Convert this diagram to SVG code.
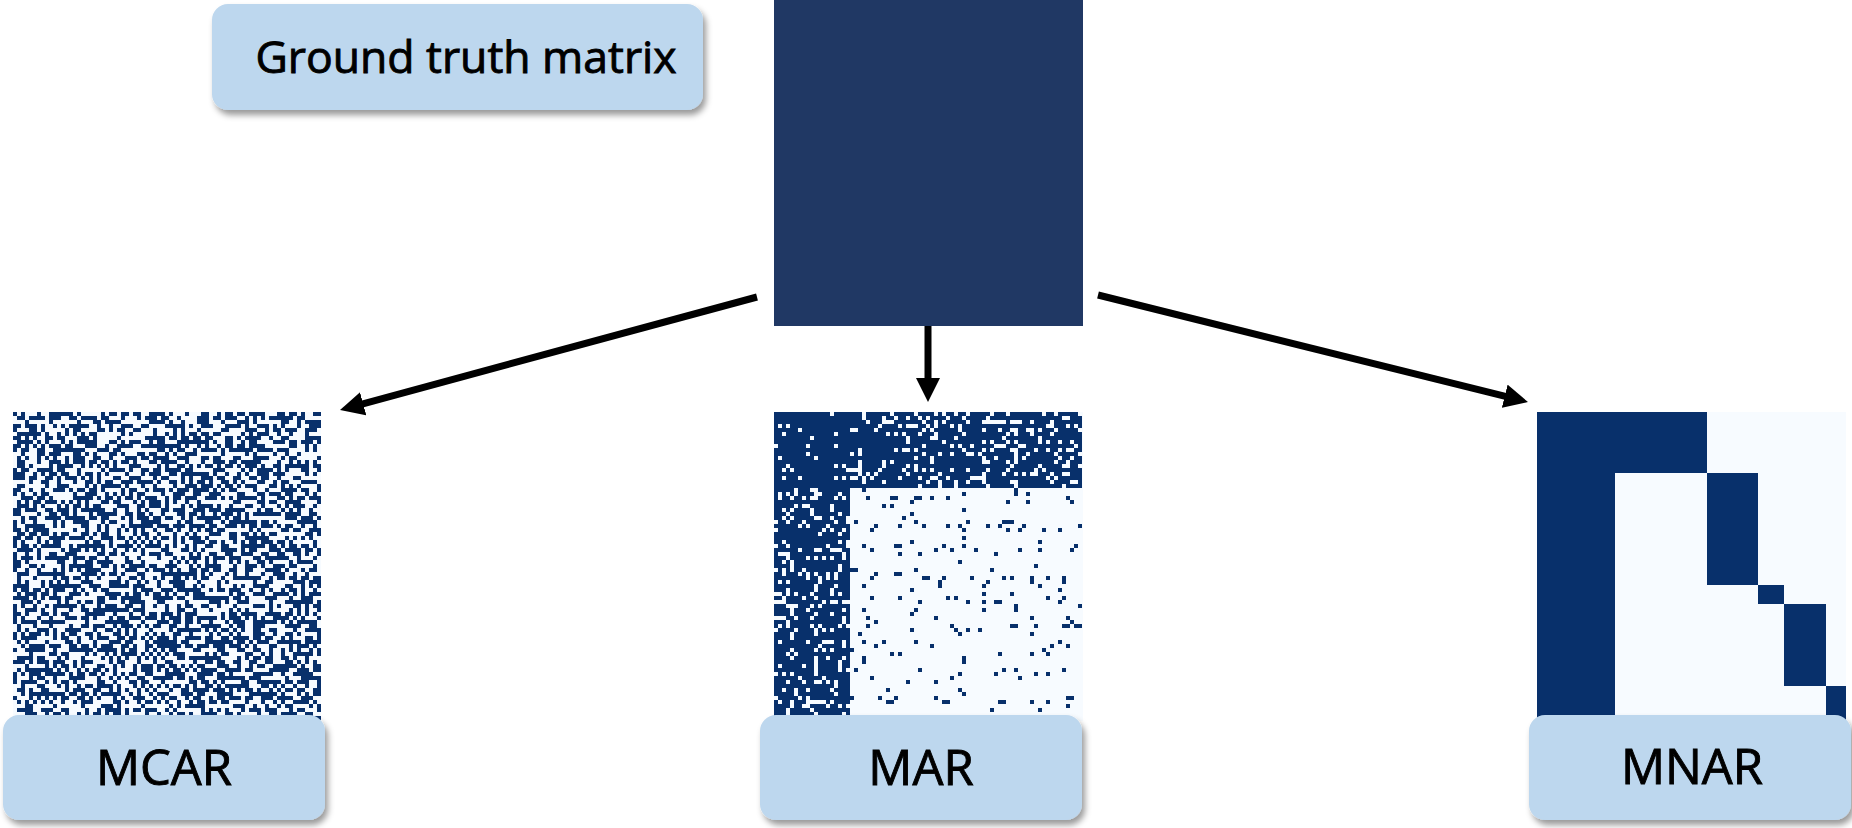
<svg xmlns="http://www.w3.org/2000/svg" width="1852" height="828" viewBox="0 0 1852 828">
  <style>
    .label { fill: #bdd7ee; filter: url(#shadow); }
    .txt { font-family: "Open Sans", "Noto Sans", "DejaVu Sans", sans-serif; fill: #000; stroke: #000; stroke-width: 0.9; text-anchor: middle; }
    .bg { fill: #f7fbff; }
    .ink { fill: #08306b; }
    .edge { stroke: #000; stroke-width: 7; fill: none; marker-end: url(#head); }
  </style>
  <defs>
    <filter id="shadow" x="-10%" y="-20%" width="125%" height="150%">
      <feDropShadow dx="3" dy="5" stdDeviation="3" flood-color="#000" flood-opacity="0.4"/>
    </filter>
    <marker id="head" viewBox="0 0 24 24" refX="6" refY="12" markerWidth="24" markerHeight="24" markerUnits="userSpaceOnUse" orient="auto">
      <path d="M0,0 L24,12 L0,24 z" fill="#000"/>
    </marker>

    <!-- random 4px cell mask: noise -> threshold -> sample one pixel per cell -> spread back over the 4x4 cell -->
    <filter id="fMCAR" filterUnits="userSpaceOnUse" primitiveUnits="userSpaceOnUse" x="13" y="412" width="308" height="308" color-interpolation-filters="sRGB">
      <feTurbulence type="fractalNoise" baseFrequency="0.29" numOctaves="1" seed="7" result="noise"/>
      <feColorMatrix in="noise" type="matrix" values="0 0 0 0 0  0 0 0 0 0  0 0 0 0 0  10 0 0 0 -4.5" result="lvl"/>
      <feComponentTransfer in="lvl" result="bin"><feFuncA type="discrete" tableValues="0 1"/></feComponentTransfer>
      <feFlood x="14" y="413" width="1" height="1" flood-color="#000" result="dot"/>
      <feOffset in="dot" x="13" y="412" width="4" height="4" result="cell"/>
      <feTile in="cell" result="grid"/>
      <feComposite in="bin" in2="grid" operator="in" result="samp"/>
      <feConvolveMatrix in="samp" order="4" kernelMatrix="1 1 1 1 1 1 1 1 1 1 1 1 1 1 1 1" divisor="1" targetX="2" targetY="2" edgeMode="none" result="dil"/>
      <feFlood flood-color="#08306b" result="col"/>
      <feComposite in="col" in2="dil" operator="in"/>
    </filter>
    <filter id="fMARs" filterUnits="userSpaceOnUse" primitiveUnits="userSpaceOnUse" x="774" y="412" width="308" height="308" color-interpolation-filters="sRGB">
      <feTurbulence type="fractalNoise" baseFrequency="0.29" numOctaves="1" seed="11" result="noise"/>
      <feColorMatrix in="noise" type="matrix" values="0 0 0 0 0  0 0 0 0 0  0 0 0 0 0  10 0 0 0 -6.3" result="lvl"/>
      <feComponentTransfer in="lvl" result="bin"><feFuncA type="discrete" tableValues="0 1"/></feComponentTransfer>
      <feFlood x="775" y="413" width="1" height="1" flood-color="#000" result="dot"/>
      <feOffset in="dot" x="774" y="412" width="4" height="4" result="cell"/>
      <feTile in="cell" result="grid"/>
      <feComposite in="bin" in2="grid" operator="in" result="samp"/>
      <feConvolveMatrix in="samp" order="4" kernelMatrix="1 1 1 1 1 1 1 1 1 1 1 1 1 1 1 1" divisor="1" targetX="2" targetY="2" edgeMode="none" result="dil"/>
      <feFlood flood-color="#08306b" result="col"/>
      <feComposite in="col" in2="dil" operator="in"/>
    </filter>
    <filter id="fMARtop" filterUnits="userSpaceOnUse" primitiveUnits="userSpaceOnUse" x="774" y="412" width="308" height="76" color-interpolation-filters="sRGB">
      <feTurbulence type="fractalNoise" baseFrequency="0.29" numOctaves="1" seed="23" result="noise"/>
      <feColorMatrix in="noise" type="matrix" values="0 0 0 0 0  0 0 0 0 0  0 0 0 0 0  10 0 0 0 -3.6" result="lvl"/>
      <feComponentTransfer in="lvl" result="bin"><feFuncA type="discrete" tableValues="0 1"/></feComponentTransfer>
      <feFlood x="775" y="413" width="1" height="1" flood-color="#000" result="dot"/>
      <feOffset in="dot" x="774" y="412" width="4" height="4" result="cell"/>
      <feTile in="cell" result="grid"/>
      <feComposite in="bin" in2="grid" operator="in" result="samp"/>
      <feConvolveMatrix in="samp" order="4" kernelMatrix="1 1 1 1 1 1 1 1 1 1 1 1 1 1 1 1" divisor="1" targetX="2" targetY="2" edgeMode="none" result="dil"/>
      <feFlood flood-color="#08306b" result="col"/>
      <feComposite in="col" in2="dil" operator="in"/>
    </filter>
    <filter id="fMARleft" filterUnits="userSpaceOnUse" primitiveUnits="userSpaceOnUse" x="774" y="412" width="76" height="308" color-interpolation-filters="sRGB">
      <feTurbulence type="fractalNoise" baseFrequency="0.29" numOctaves="1" seed="41" result="noise"/>
      <feColorMatrix in="noise" type="matrix" values="0 0 0 0 0  0 0 0 0 0  0 0 0 0 0  10 0 0 0 -3.6" result="lvl"/>
      <feComponentTransfer in="lvl" result="bin"><feFuncA type="discrete" tableValues="0 1"/></feComponentTransfer>
      <feFlood x="775" y="413" width="1" height="1" flood-color="#000" result="dot"/>
      <feOffset in="dot" x="774" y="412" width="4" height="4" result="cell"/>
      <feTile in="cell" result="grid"/>
      <feComposite in="bin" in2="grid" operator="in" result="samp"/>
      <feConvolveMatrix in="samp" order="4" kernelMatrix="1 1 1 1 1 1 1 1 1 1 1 1 1 1 1 1" divisor="1" targetX="2" targetY="2" edgeMode="none" result="dil"/>
      <feFlood flood-color="#08306b" result="col"/>
      <feComposite in="col" in2="dil" operator="in"/>
    </filter>
  </defs>

  <rect width="1852" height="828" fill="#fff"/>

  <!-- connectors -->
  <g id="connectors">
    <line class="edge" x1="757" y1="297" x2="357.4" y2="405.3"/>
    <line class="edge" x1="928" y1="326" x2="928" y2="384"/>
    <line class="edge" x1="1098" y1="295" x2="1510.5" y2="397.7"/>
  </g>

  <!-- full matrix -->
  <g id="ground-truth">
    <rect x="774" y="0" width="309" height="326" fill="#203864"/>
  </g>
  <g id="ground-truth-label">
    <rect class="label" x="212" y="4" width="491" height="106" rx="16"/>
    <text class="txt" x="466" y="73" font-size="44.5">Ground truth matrix</text>
  </g>

  <!-- missing completely at random -->
  <g id="mcar">
    <rect class="bg" x="13" y="412" width="308" height="308"/>
    <rect x="13" y="412" width="308" height="308" filter="url(#fMCAR)"/>
    <rect class="label" x="3" y="715" width="322" height="105" rx="16"/>
    <text class="txt" x="164" y="785" font-size="49">MCAR</text>
  </g>

  <!-- missing at random -->
  <g id="mar">
    <rect class="bg" x="774" y="412" width="309" height="309"/>
    <rect x="774" y="412" width="308" height="308" filter="url(#fMARs)"/>
    <rect x="774" y="412" width="308" height="76" filter="url(#fMARtop)"/>
    <rect x="774" y="412" width="76" height="308" filter="url(#fMARleft)"/>
    <rect class="label" x="760" y="715" width="322" height="105" rx="16"/>
    <text class="txt" x="921" y="785" font-size="49">MAR</text>
  </g>

  <!-- missing not at random -->
  <g id="mnar">
    <rect class="bg" x="1537" y="412" width="309" height="309"/>
    <rect class="ink" x="1537" y="412" width="78" height="309"/>
    <rect class="ink" x="1537" y="412" width="170" height="61"/>
    <rect class="ink" x="1707" y="473" width="51" height="112"/>
    <rect class="ink" x="1758" y="585" width="26" height="19"/>
    <rect class="ink" x="1784" y="604" width="42" height="82"/>
    <rect class="ink" x="1826" y="686" width="20" height="35"/>
    <rect class="label" x="1529" y="715" width="322" height="105" rx="16"/>
    <text class="txt" x="1692" y="784" font-size="49">MNAR</text>
  </g>
</svg>
